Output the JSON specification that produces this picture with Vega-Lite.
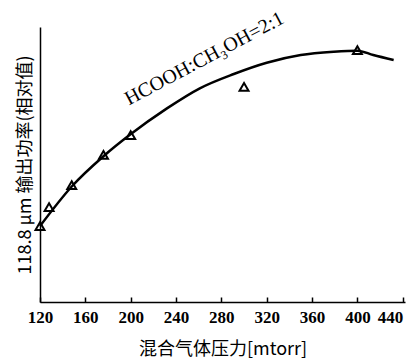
{
  "$schema": "https://vega.github.io/schema/vega-lite/v6.json",
  "width": 365,
  "height": 275,
  "autosize": "none",
  "padding": {"left": 40, "top": 27, "right": 7, "bottom": 60},
  "config": {"view": {"stroke": null}},
  "datasets": {
    "curve": [
      {"p": 120, "v": 27.6},
      {"p": 148, "v": 42.0},
      {"p": 176, "v": 53.0},
      {"p": 199, "v": 60.7},
      {"p": 232, "v": 70.4},
      {"p": 261, "v": 77.7},
      {"p": 291, "v": 82.9},
      {"p": 320, "v": 87.0},
      {"p": 350, "v": 89.8},
      {"p": 379, "v": 91.0},
      {"p": 400, "v": 91.4},
      {"p": 414, "v": 89.8},
      {"p": 432, "v": 88.0}
    ],
    "pts": [
      {"p": 120, "v": 27.6},
      {"p": 128, "v": 34.5},
      {"p": 148, "v": 42.5},
      {"p": 176, "v": 53.5},
      {"p": 200, "v": 60.7},
      {"p": 300, "v": 78.2},
      {"p": 400, "v": 91.6}
    ],
    "lab": [
      {"p": 265, "v": 88.5, "t": "HCOOH:CH₃OH=2:1"}
    ]
  },
  "encoding": {
    "x": {
      "field": "p",
      "type": "quantitative",
      "scale": {"domain": [120, 442], "nice": false, "zero": false},
      "axis": {
        "values": [120, 160, 200, 240, 280, 320, 360, 400, 440],
        "grid": false,
        "domainColor": "black",
        "domainWidth": 1.5,
        "tickColor": "black",
        "tickSize": -5,
        "tickWidth": 1.5,
        "labelPadding": 12,
        "labelFont": "Liberation Serif",
        "labelFontWeight": "bold",
        "labelFontSize": 17,
        "labelColor": "black",
        "labelAlign": {"condition": {"test": "datum.value == 440", "value": "right"}, "value": "center"},
        "title": "混合气体压力[mtorr]",
        "titleFont": "Noto Sans CJK SC",
        "titleFontSize": 18,
        "titleFontWeight": "normal",
        "titleColor": "black",
        "titlePadding": 15
      }
    },
    "y": {
      "field": "v",
      "type": "quantitative",
      "scale": {"domain": [0, 100], "nice": false},
      "axis": {
        "grid": false,
        "ticks": false,
        "labels": false,
        "domainColor": "black",
        "domainWidth": 1.5,
        "title": "118.8 μm 输出功率(相对值)",
        "titleFont": "Noto Sans CJK SC",
        "titleFontSize": 18,
        "titleFontWeight": "normal",
        "titleColor": "black",
        "titlePadding": 6
      }
    }
  },
  "layer": [
    {
      "data": {"name": "curve"},
      "mark": {"type": "line", "interpolate": "monotone", "color": "black", "strokeWidth": 2.5}
    },
    {
      "data": {"name": "pts"},
      "mark": {"type": "point", "shape": "triangle-up", "filled": false, "color": "black", "strokeWidth": 2, "size": 80, "opacity": 1}
    },
    {
      "data": {"name": "lab"},
      "mark": {"type": "text", "angle": -28, "font": "Liberation Serif", "fontSize": 20, "color": "black", "align": "center", "baseline": "middle"},
      "encoding": {"text": {"field": "t"}}
    }
  ]
}
